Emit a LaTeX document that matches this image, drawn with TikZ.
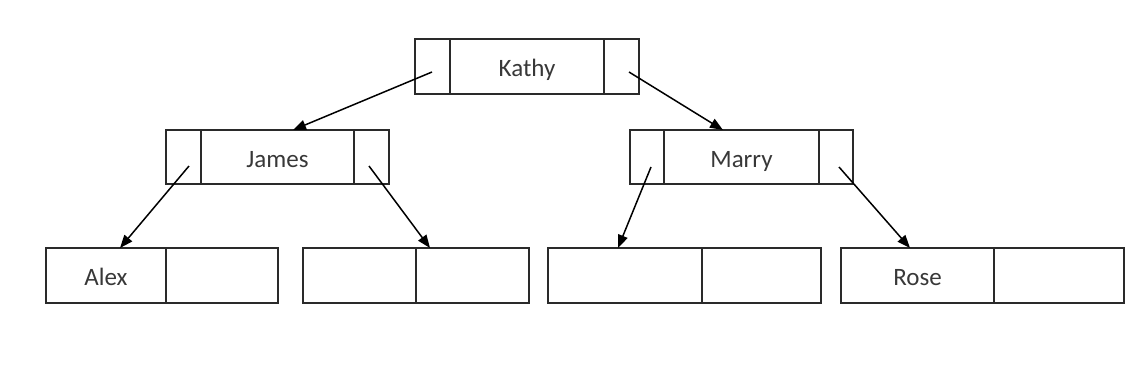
\documentclass[tikz,border=0pt]{standalone}
\usepackage{fontspec}
\setmainfont{Carlito}
\usetikzlibrary{arrows.meta}
\definecolor{boxline}{HTML}{2A2A2A}
\definecolor{labeltext}{HTML}{383838}
\begin{document}
\begin{tikzpicture}[x=1pt,y=-1pt,
  cell/.style={draw=boxline, line width=2pt, rectangle, inner sep=0pt, outer sep=0pt,
    anchor=north west, minimum height=55pt, text height=20pt, text depth=0pt,
    font=\fontsize{25}{28}\selectfont, text=labeltext},
  link/.style={draw=black, line width=1.5pt, -{Triangle[length=13pt,width=10pt]}}]
  \useasboundingbox (0,0) rectangle (1125,375);

  % root record
  \node[cell, minimum width=35pt]  (kL) at (415,39) {};
  \node[cell, minimum width=154pt] (kM) at (450,39) {Kathy};
  \node[cell, minimum width=35pt]  (kR) at (604,39) {};

  % second level
  \node[cell, minimum width=35pt, minimum height=54pt]  (jL) at (166,130) {};
  \node[cell, minimum width=153pt, minimum height=54pt] (jM) at (201,130) {James};
  \node[cell, minimum width=35pt, minimum height=54pt]  (jR) at (354,130) {};

  \node[cell, minimum width=34pt, minimum height=54pt]  (mL) at (630,130) {};
  \node[cell, minimum width=155pt, minimum height=54pt] (mM) at (664,130) {Marry};
  \node[cell, minimum width=34pt, minimum height=54pt]  (mR) at (819,130) {};

  % leaves
  \node[cell, minimum width=120pt] (aL) at (46,248) {Alex};
  \node[cell, minimum width=112pt] (aR) at (166,248) {};

  \node[cell, minimum width=113pt] (bL) at (303,248) {};
  \node[cell, minimum width=113pt] (bR) at (416,248) {};

  \node[cell, minimum width=154pt] (cL) at (548,248) {};
  \node[cell, minimum width=119pt] (cR) at (702,248) {};

  \node[cell, minimum width=153pt] (rL) at (841,248) {Rose};
  \node[cell, minimum width=130pt] (rR) at (994,248) {};

  % pointer origins inside the side cells
  \coordinate (kLp) at ([xshift=-0.5pt,yshift=-5.5pt]kL.center);
  \coordinate (kRp) at ([xshift=7.5pt,yshift=-5.5pt]kR.center);
  \coordinate (jLp) at ([xshift=5.5pt,yshift=-9pt]jL.center);
  \coordinate (jRp) at ([xshift=-2.5pt,yshift=-9pt]jR.center);
  \coordinate (mLp) at ([xshift=4pt,yshift=-10pt]mL.center);
  \coordinate (mRp) at ([xshift=3pt,yshift=-10pt]mR.center);

  % pointers
  \draw[link] (kLp) -- ([xshift=15.5pt]jM.north);
  \draw[link] (kRp) -- ([xshift=-18.5pt]mM.north);
  \draw[link] (jLp) -- ([xshift=14pt]aL.north);
  \draw[link] (jRp) -- ([xshift=14pt]bR.north west);
  \draw[link] (mLp) -- ([xshift=-7pt]cL.north);
  \draw[link] (mRp) -- ([xshift=-7.5pt]rL.north);
\end{tikzpicture}
\end{document}
